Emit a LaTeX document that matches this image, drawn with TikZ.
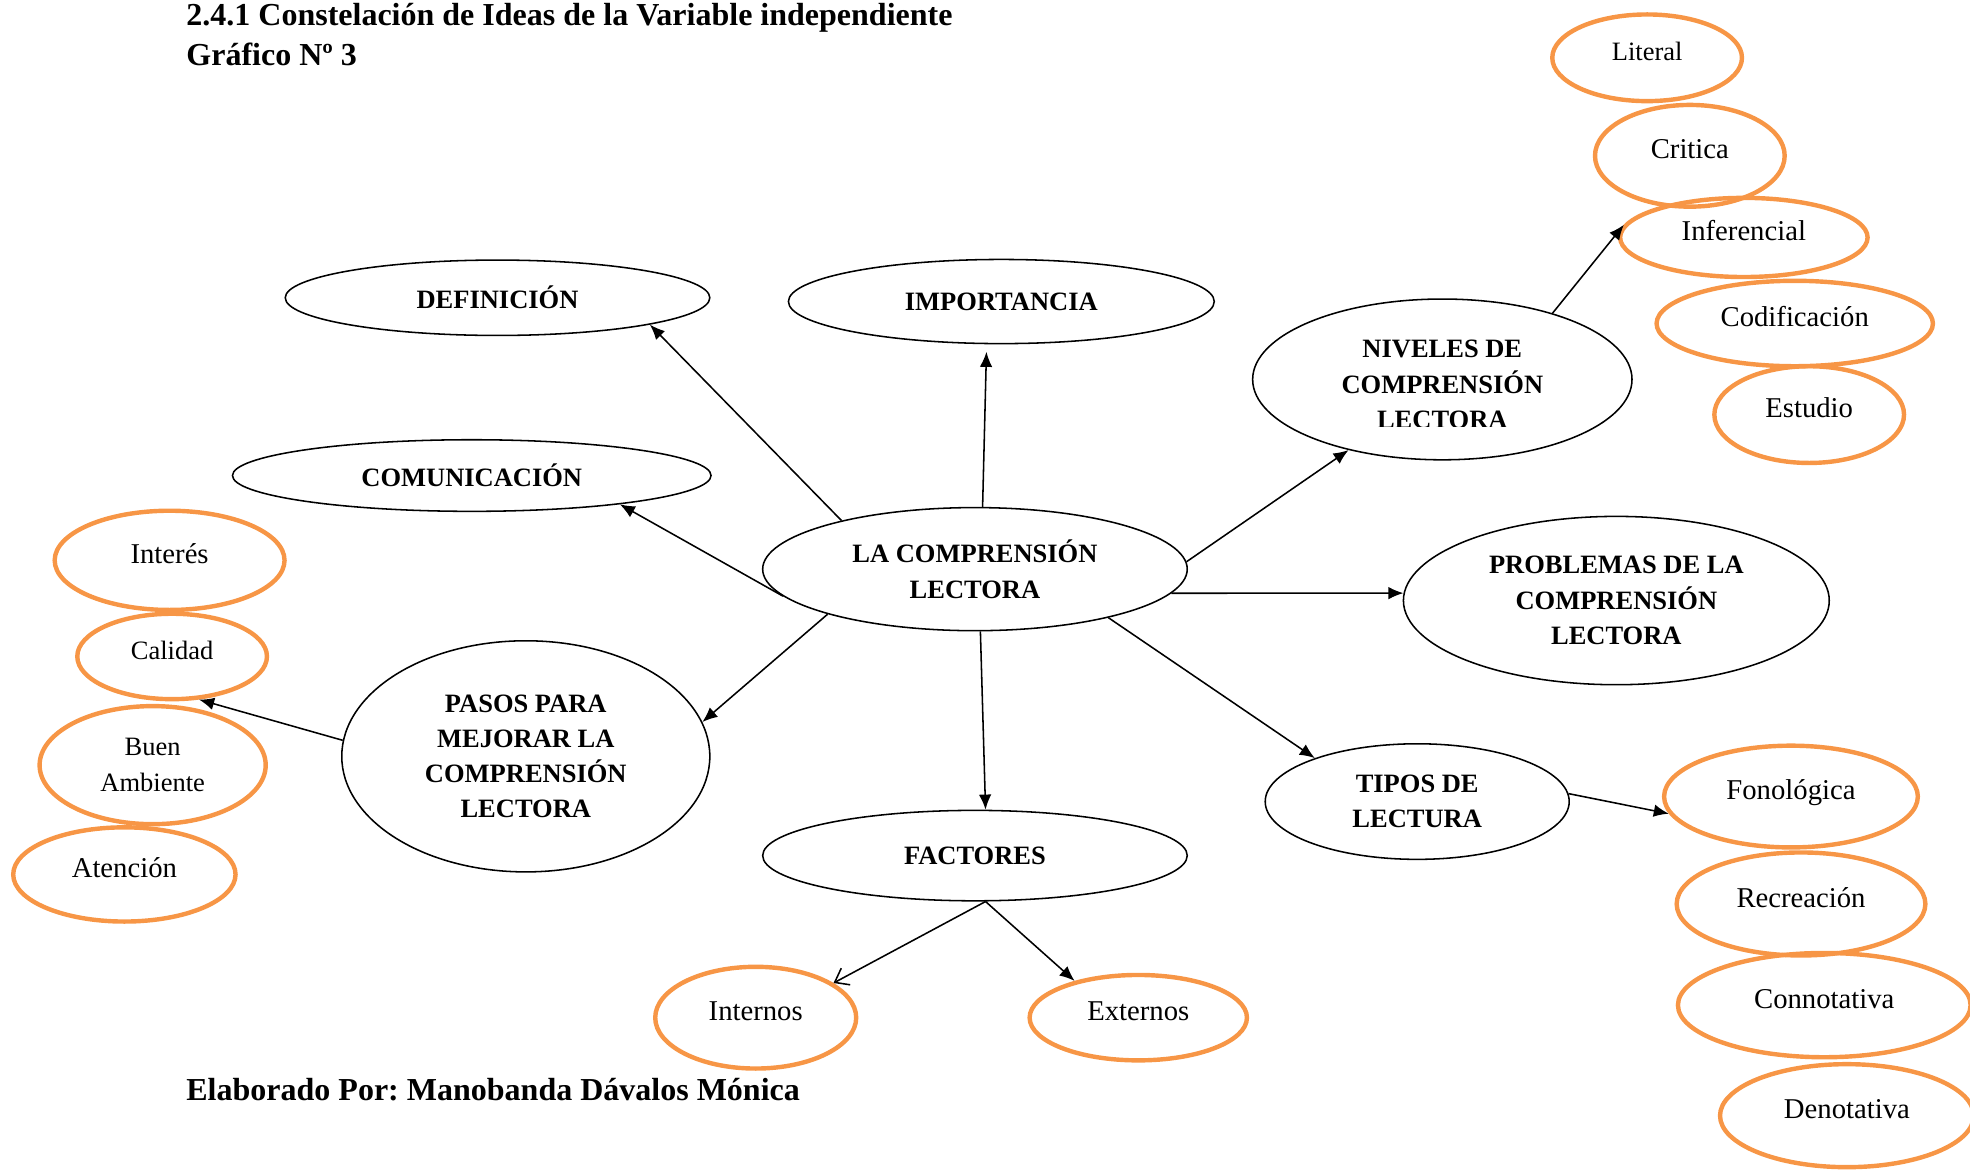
\documentclass[tikz,border=0pt]{standalone}
\usepackage{fontspec}
\setmainfont{Liberation Serif}
\usetikzlibrary{shapes.geometric,arrows.meta}
\definecolor{naranja}{RGB}{247,150,70}
\frenchspacing

\begin{document}
\begin{tikzpicture}[x=0.02cm,y=-0.02cm,
	idea/.style={shape=ellipse,draw,line width=0.7pt,inner sep=0pt,align=center,font=\fontsize{12}{16}\selectfont\bfseries},
	sub/.style={shape=ellipse,draw=naranja,line width=2pt,inner sep=0pt,align=center,text height=0.3cm,text depth=0.2cm,font=\fontsize{13}{16}\selectfont},
	titulo/.style={anchor=base west,inner sep=0pt,font=\fontsize{14.5}{17}\selectfont\bfseries},
	flecha/.style={-{Latex[length=2.4mm,width=2mm]},line width=0.7pt}]
	\useasboundingbox (0,0) rectangle (1568,932);

	\node[titulo] (tit) at (148,20) {2.4.1 Constelación de Ideas de la Variable independiente};
	\node[titulo] (graf) at (148,52) {Gráfico Nº 3};
	\node[titulo] (autor) at (148,876) {Elaborado Por: Manobanda Dávalos Mónica};

	% ideas principales
	\node[idea,minimum width=6.76cm,minimum height=1.96cm] (lc) at (776,453) {LA COMPRENSIÓN\\LECTORA};
	\node[idea,minimum width=6.76cm,minimum height=1.2cm] (def) at (396,237) {DEFINICIÓN};
	\node[idea,minimum width=6.78cm,minimum height=1.34cm] (imp) at (797,240) {IMPORTANCIA};
	\node[idea,minimum width=7.62cm,minimum height=1.14cm] (com) at (375.5,378.5) {COMUNICACIÓN};
	\node[idea,minimum width=6.04cm,minimum height=2.56cm] (niv) at (1148,302) {};
	\node[idea,minimum width=6.78cm,minimum height=2.68cm] (prob) at (1286.5,478) {PROBLEMAS DE LA\\COMPRENSIÓN\\LECTORA};
	\node[idea,minimum width=5.86cm,minimum height=3.68cm] (pas) at (418.5,602) {PASOS PARA\\MEJORAR LA\\COMPRENSIÓN\\LECTORA};
	\node[idea,minimum width=6.76cm,minimum height=1.44cm] (fac) at (776,681) {FACTORES};
	\node[idea,minimum width=4.84cm,minimum height=1.84cm] (tipos) at (1128,638) {TIPOS DE\\LECTURA};

	\begin{scope}
		\clip (1000,250) rectangle (1300,339.5);
		\node[idea,draw=none] (nivtxt) at (1148,306) {NIVELES DE\\COMPRENSIÓN\\LECTORA};
	\end{scope}

	% niveles
	\node[sub,minimum width=3.02cm,minimum height=1.38cm,font=\fontsize{12}{15}\selectfont] (lit) at (1311,46) {Literal};
	\node[sub,minimum width=3.02cm,minimum height=1.62cm] (cri) at (1345,124) {Critica};
	\node[sub,minimum width=3.94cm,minimum height=1.26cm] (inf) at (1388,189) {Inferencial};
	\node[sub,minimum width=4.40cm,minimum height=1.36cm] (cod) at (1428.5,257.5) {Codificación};
	\node[sub,minimum width=3.02cm,minimum height=1.54cm] (est) at (1440,330) {Estudio};

	% pasos
	\node[sub,minimum width=3.66cm,minimum height=1.58cm] (intr) at (135,446) {Interés};
	\node[sub,minimum width=3.02cm,minimum height=1.36cm,font=\fontsize{12}{15}\selectfont] (cal) at (137,522.5) {Calidad};
	\node[sub,minimum width=3.60cm,minimum height=1.88cm,text height={},text depth={},font=\fontsize{12}{16.5}\selectfont] (bue) at (121.5,609) {Buen\\Ambiente};
	\node[sub,minimum width=3.54cm,minimum height=1.50cm] (ate) at (99,696) {Atención};

	% factores
	\node[sub,minimum width=3.20cm,minimum height=1.62cm] (int) at (601.5,810) {Internos};
	\node[sub,minimum width=3.46cm,minimum height=1.36cm] (ext) at (906,810) {Externos};

	% tipos
	\node[sub,minimum width=4.04cm,minimum height=1.62cm] (fon) at (1425.5,634) {Fonológica};
	\node[sub,minimum width=3.96cm,minimum height=1.64cm] (rec) at (1433.5,719.5) {Recreación};
	\node[sub,minimum width=4.66cm,minimum height=1.66cm] (con) at (1452,800) {Connotativa};
	\node[sub,minimum width=4.04cm,minimum height=1.64cm] (den) at (1470,888) {Denotativa};

	\path [flecha]
	(lc.160) edge (def.-10)
	(lc.83) edge[shorten >=0.12cm] (imp.-109)
	(lc.188) edge (com.-11)
	(lc.2) edge (niv.-143)
	(lc.-7) edge (prob.178)
	(lc.-20) edge (tipos.157)
	(lc.-85) edge (fac.77)
	(lc.197) edge (pas.11)
	(niv.31) edge (inf.174)
	(pas.175) edge (cal.-58)
	(tipos.3) edge (fon.188)
	(fac.-77) edge[-{Straight Barb[length=2mm,width=3mm]}] (int.24)
	(fac.-77) edge (ext.150);
\end{tikzpicture}
\end{document}
